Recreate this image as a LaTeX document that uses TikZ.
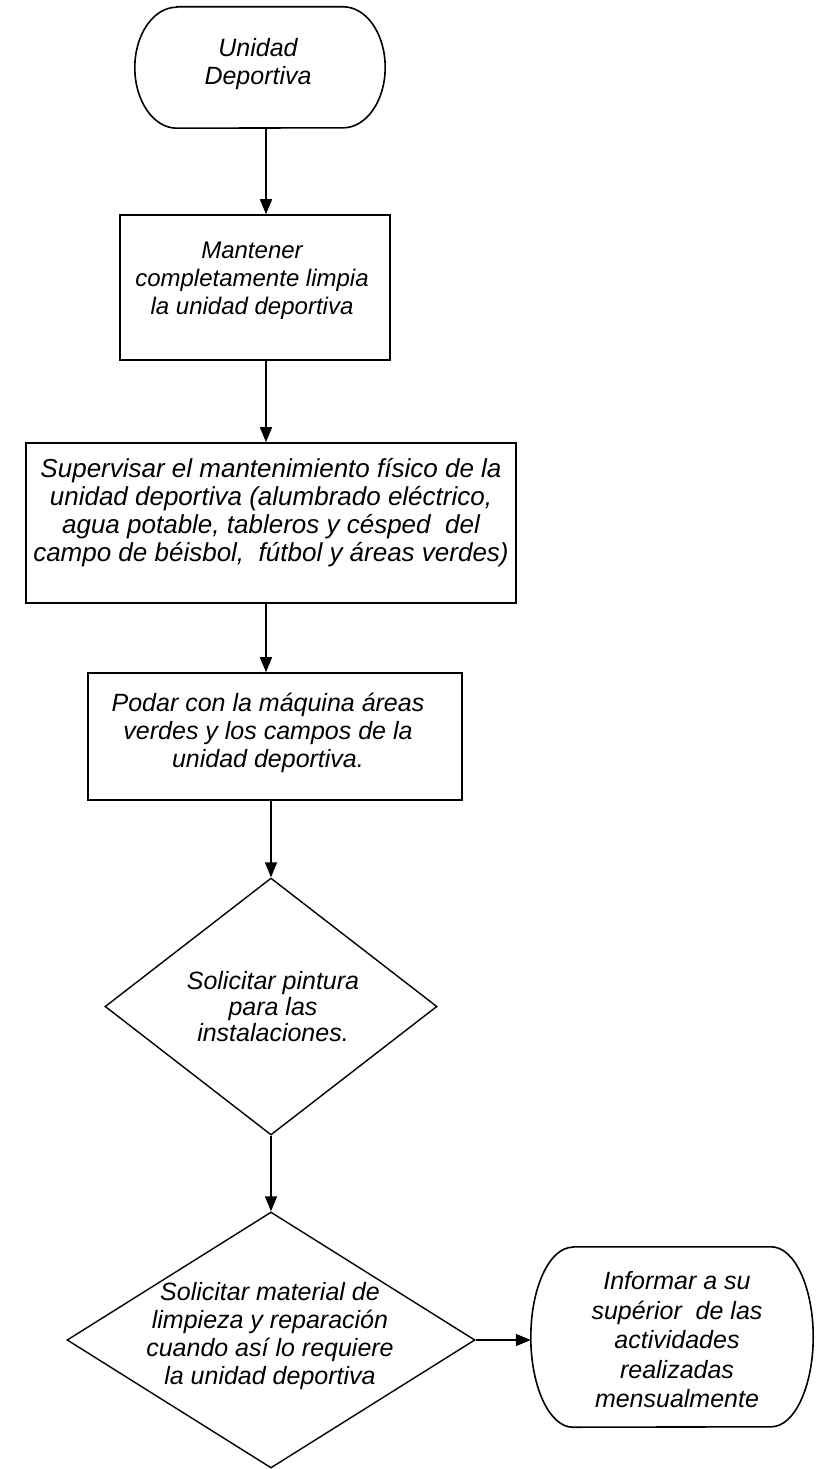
\documentclass[tikz,border=0pt]{standalone}
\usepackage{fontspec}
\setmainfont{Liberation Sans}
\usetikzlibrary{shapes.geometric,arrows.meta}
% terminal outline with half-elliptical ends around node #1
\newcommand{\capsule}[3]{%
  \draw[shapeline] ([xshift=#2]#1.north west) -- ([xshift=-#2]#1.north east)
    arc[start angle=90,end angle=-90,x radius=#2,y radius=#3]
    -- ([xshift=#2]#1.south west)
    arc[start angle=270,end angle=90,x radius=#2,y radius=#3] -- cycle;}
\begin{document}
\begin{tikzpicture}[x=1pt,y=-1pt,
  every node/.style={inner sep=0pt},
  txt/.style={font=\itshape\fontsize{#1}{28}\selectfont, align=center},
  txt/.default=24,
  shapeline/.style={draw, line width=1.6pt},
  term/.style={rectangle},
  procbox/.style={shapeline, rectangle},
  decision/.style={draw, line width=1.4pt, diamond},
  flow/.style={line width=1.6pt, -{Triangle[length=15pt,width=12pt]}}]
\fill[white] (0,0) rectangle (816,1469);
\useasboundingbox (0,0) rectangle (816,1469);

% vertical spine of the main flow
\coordinate (spine) at (266,0);

% start terminal
\node[term, minimum width=250pt, minimum height=121pt] (start) at (260,67.5) {};
\capsule{start}{42pt}{60.5pt}
\node[txt=25] (start-t) at (258,64) {Unidad\\Deportiva};

% process boxes
\node[procbox, minimum width=270pt, minimum height=145pt] (clean) at (255,287.5) {};
\node[txt=24] (clean-t) at (252,281) {Mantener\\completamente limpia\\la unidad deportiva};

\node[procbox, minimum width=490pt, minimum height=160pt] (super) at (271,523) {};
\node[txt=26] (super-t) at (271,513) {Supervisar el mantenimiento físico de la\\unidad deportiva (alumbrado eléctrico,\\agua potable, tableros y césped \ del\\campo de béisbol, \ fútbol y áreas verdes)};

\node[procbox, minimum width=374pt, minimum height=127pt] (mow) at (275,736.5) {};
\node[txt=25] (mow-t) at (268,733) {Podar con la máquina áreas\\verdes y los campos de la\\unidad deportiva.};

% decisions
\node[decision, minimum width=332pt, minimum height=257pt] (paint) at (271,1006.5) {};
\node[font=\itshape\fontsize{25}{26}\selectfont, align=center] (paint-t) at (273,1007) {Solicitar pintura\\para las\\instalaciones.};

\node[decision, minimum width=408pt, minimum height=256pt] (supply) at (271,1340) {};
\node[txt=25] (supply-t) at (270,1336) {Solicitar material de\\limpieza y reparación\\cuando así lo requiere\\la unidad deportiva};

% end terminal
\node[term, minimum width=282pt, minimum height=180pt] (report) at (672,1337) {};
\capsule{report}{42pt}{90pt}
\node[font=\itshape\fontsize{25}{29.5}\selectfont, align=center] (report-t) at (677,1340) {Informar a su\\supérior \ de las\\actividades\\realizadas\\mensualmente};

% connectors
\draw[flow] (start.south -| spine) -- (clean.north -| spine);
\draw[flow] (clean.south -| spine) -- (super.north -| spine);
\draw[flow] (super.south -| spine) -- (mow.north -| spine);
\draw[flow] (mow.south -| paint.north) -- (paint.north);
\draw[flow] (paint.south) -- (supply.north);
\draw[flow] (supply.east) -- (report.west |- supply.east);
\end{tikzpicture}
\end{document}
